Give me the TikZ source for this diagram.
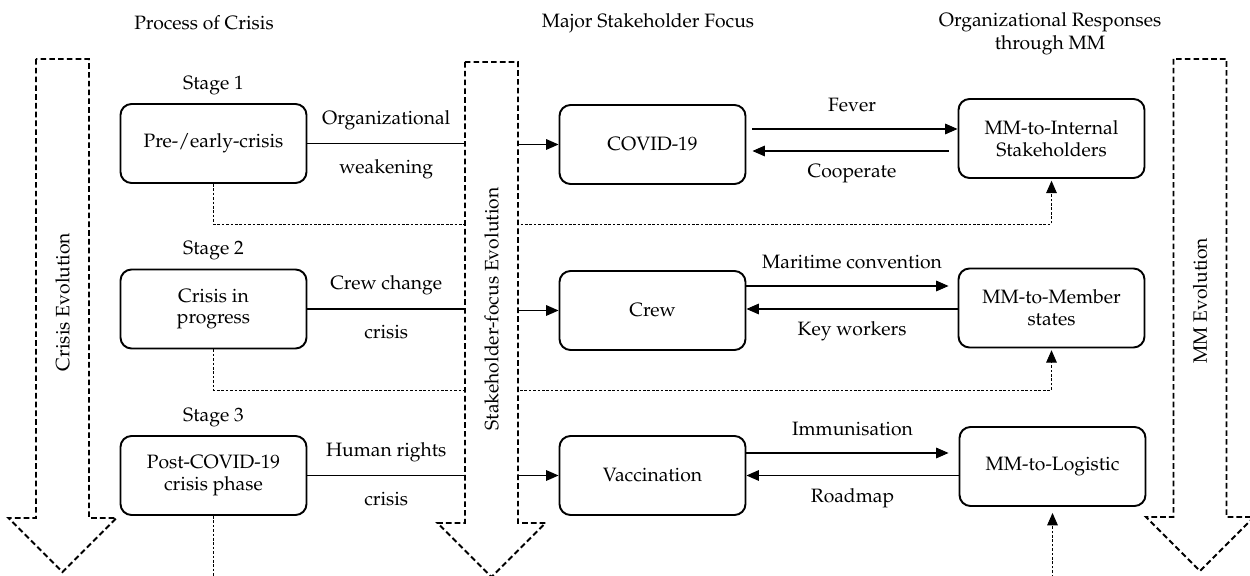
\documentclass[tikz,border=0pt]{standalone}
\usepackage[T1]{fontenc}
\usepackage{mathpazo}
\usetikzlibrary{arrows.meta,positioning}

\begin{document}
\begin{tikzpicture}[>={Triangle[length=7pt,width=6pt]}, line width=0.6pt,
    font=\fontsize{11}{12.4}\selectfont]

    \tikzset{block/.style={%
      draw,%
      rectangle,%
      rounded corners=0.22cm,%
      line width=1.1pt,%
      align=center,%
      minimum width=3.72cm,%
      minimum height=1.58cm}%
    };

    \tikzset{evolution/.style={draw, fill=white, line width=1.1pt, dash pattern=on 3.2pt off 1.8pt}};
    \tikzset{feedback/.style={->, line width=0.5pt, dash pattern=on 1.5pt off 1pt}};

    \path [use as bounding box] (0, 0) rectangle (25, 11.52);
    \clip (0, 0) rectangle (25, 11.52);

    %%%%%%%%%%%%%%%
    %   headers   %
    %%%%%%%%%%%%%%%
    \path (4.08, 11.06) node (hcrisis) {Process of Crisis};
    \path (12.96, 11.06) node (hfocus) {Major Stakeholder Focus};
    \path (21.0, 10.84) node [align=center, font=\fontsize{11}{13}\selectfont] (hresp) {Organizational Responses\\through MM};

    %%%%%%%%%%%%%%%
    %   stages    %
    %%%%%%%%%%%%%%%
    \path (4.27, 8.65) node [block] (pre) {Pre-/early-crisis};
    \path (4.27, 5.34) node [block] (prog) {Crisis in\\progress};
    \path (4.27, 2.01) node [block] (post) {Post-COVID-19\\crisis phase};

    \node [above=0.04cm of pre] (st1) {Stage 1};
    \node [above=0.04cm of prog] (st2) {Stage 2};
    \node [above=0.04cm of post] (st3) {Stage 3};

    %%%%%%%%%%%%%%%
    %   focus     %
    %%%%%%%%%%%%%%%
    \path (13.05, 8.63) node [block] (covid) {COVID-19};
    \path (13.05, 5.31) node [block] (crew) {Crew};
    \path (13.05, 2.01) node [block] (vacc) {Vaccination};

    %%%%%%%%%%%%%%%
    %  responses  %
    %%%%%%%%%%%%%%%
    \path (21.03, 8.75) node [block] (internal) {MM-to-Internal\\Stakeholders};
    \path (21.03, 5.36) node [block] (member) {MM-to-Member\\states};
    \path (21.05, 2.19) node [block] (logistic) {MM-to-Logistic};

    % feedback from each stage to the responses
    \coordinate (base) at (0, -0.2);
    \draw [feedback, shorten >=1pt] (pre.south) -- ++(0, -0.80) -| (internal.south);
    \draw [feedback, shorten >=1pt] (prog.south) -- ++(0, -0.81) -| (member.south);
    \draw [feedback, -] (post.south) -- (post.south |- base);
    \draw [feedback, shorten >=0.12cm] (logistic.south |- base) -- (logistic.south);

    % evolution arrows
    \foreach \xa/\ya/\yb in {1.25/10.34/1.16, 9.83/10.28/1.06, 24.0/10.34/1.18}
      \draw [evolution] (\xa-0.53, \ya) -- (\xa-0.53, \yb) -- (\xa-1.08, \yb) -- (\xa, \yb-1.08)
        -- (\xa+1.08, \yb) -- (\xa+0.53, \yb) -- (\xa+0.53, \ya) -- cycle;

    \path (1.25, 5.48) node [rotate=90] (crev) {Crisis Evolution};
    \path (9.83, 5.34) node [rotate=90] (stev) {Stakeholder-focus Evolution};
    \path (24.0, 5.5) node [rotate=90] (mmev) {MM Evolution};

    \coordinate (sl) at (9.3, 0);
    \coordinate (sr) at (10.36, 0);

    % stage -> focus
    \draw (pre.east) -- (pre.east -| sl) node [midway, above=0.15cm] {Organizational} node [midway, below=0.2cm] {weakening};
    \draw (prog.east) -- (prog.east -| sl) node [midway, above=0.15cm] {Crew change} node [midway, below=0.2cm] {crisis};
    \draw (post.east) -- (post.east -| sl) node [midway, above=0.15cm] {Human rights} node [midway, below=0.2cm] {crisis};

    \draw [->] (covid.west -| sr) -- (covid.west);
    \draw [->] (crew.west -| sr) -- (crew.west);
    \draw [->] (vacc.west -| sr) -- (vacc.west);

    % focus <-> responses
    \draw [->, shorten <=0.12cm] ([yshift=0.31cm]covid.east) -- ([yshift=0.31cm]covid.east -| internal.west) node [midway, above=0.22cm] {Fever};
    \draw [->, shorten <=0.18cm, shorten >=0.12cm] ([yshift=-0.13cm]covid.east -| internal.west) -- ([yshift=-0.13cm]covid.east) node [midway, below=0.13cm] {Cooperate};

    \draw [->, shorten >=0.18cm] ([yshift=0.49cm]crew.east) -- ([yshift=0.49cm]crew.east -| member.west) node [midway, above=0.22cm] {Maritime convention};
    \draw [->] ([yshift=0.03cm]crew.east -| member.west) -- ([yshift=0.03cm]crew.east) node [midway, below=0.13cm] {Key workers};

    \draw [->, shorten >=0.2cm] ([yshift=0.45cm]vacc.east) -- ([yshift=0.45cm]vacc.east -| logistic.west) node [midway, above=0.22cm] {Immunisation};
    \draw [->] (vacc.east -| logistic.west) -- (vacc.east) node [midway, below=0.13cm] {Roadmap};

  \end{tikzpicture}
\end{document}
